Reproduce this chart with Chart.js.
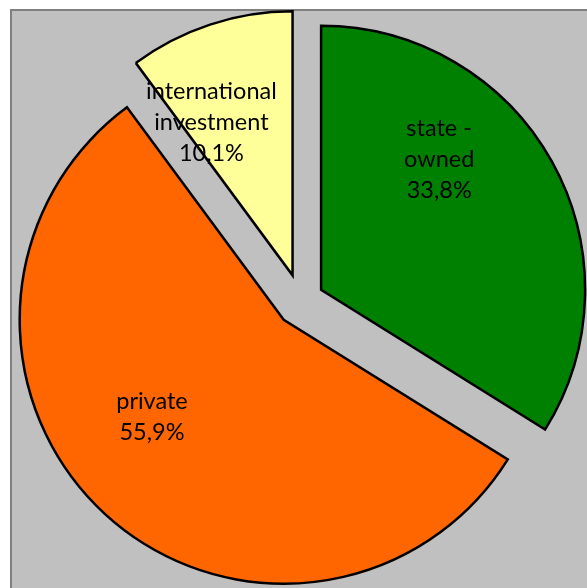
<!doctype html>
<html>

<head>
    <title>Ownership</title>
    <script src="https://cdn.jsdelivr.net/npm/chart.js"></script>
    <style>
        body {
            margin: 0;
            padding: 0;
            background-color: #ffffff;
        }

        #container {
            position: relative;
            width: 587px;
            height: 588px;
        }
    </style>
</head>

<body>
    <div id="container">
        <canvas id="ownership"></canvas>
    </div>

    <script>
        // slice names (split into lines) and their shares in percent
        var categories = [['state -', 'owned'], ['private'], ['international', 'investment']];
        var shares = [33.8, 55.9, 10.1];
        var colors = ['#008000', '#FF6600', '#FFFF99'];

        // grey plot area with a thin frame on the left and top
        var plotArea = {
            id: 'plotArea',
            beforeDraw(chart) {
                var ctx = chart.ctx;
                ctx.save();
                ctx.fillStyle = '#C0C0C0';
                ctx.fillRect(11, 10, chart.width, chart.height);
                ctx.strokeStyle = '#808080';
                ctx.lineWidth = 2;
                ctx.strokeRect(11, 10, chart.width + 10, chart.height + 10);
                ctx.restore();
            }
        };

        // pulls every slice out along its middle angle, keeping the radius
        var explode = {
            id: 'explode',
            beforeDatasetDraw(chart, args, opts) {
                var ctx = chart.ctx;
                chart.getDatasetMeta(args.index).data.forEach(function (arc, i) {
                    var mid = (arc.startAngle + arc.endAngle) / 2;
                    var d = opts.distance[i];
                    ctx.save();
                    ctx.translate(Math.cos(mid) * d, Math.sin(mid) * d);
                    arc.draw(ctx);
                    ctx.restore();
                });
                return false;
            }
        };

        // name + percentage written inside each slice
        var sliceLabels = {
            id: 'sliceLabels',
            afterDatasetsDraw(chart, args, opts) {
                var ctx = chart.ctx;
                ctx.save();
                ctx.font = opts.size + 'px ' + opts.family;
                ctx.fillStyle = '#000000';
                ctx.textAlign = 'center';
                ctx.textBaseline = 'middle';
                chart.getDatasetMeta(0).data.forEach(function (arc, i) {
                    var p = opts.place[i];
                    var a = arc.startAngle + (arc.endAngle - arc.startAngle) * p.t;
                    var r = arc.outerRadius * p.r;
                    var x = arc.x + Math.cos(a) * r;
                    var y = arc.y + Math.sin(a) * r;
                    var lines = categories[i].concat([shares[i].toFixed(1).replace('.', ',') + '%']);
                    var top = y - (lines.length - 1) * opts.lineHeight / 2;
                    lines.forEach(function (line, k) {
                        ctx.fillText(line, x, top + k * opts.lineHeight);
                    });
                });
                ctx.restore();
            }
        };

        var ownership = new Chart(document.getElementById('ownership').getContext('2d'), {
            type: 'pie',
            data: {
                labels: categories,
                datasets: [{
                    data: shares,
                    backgroundColor: colors,
                    borderColor: '#000000',
                    borderWidth: 2.5,
                    borderJoinStyle: 'miter',
                    radius: 264
                }]
            },
            options: {
                responsive: true,
                maintainAspectRatio: false,
                animation: false,
                events: [],
                layout: {
                    padding: { left: 15, top: 14, right: 0, bottom: 0 }
                },
                plugins: {
                    legend: { display: false },
                    tooltip: { enabled: false },
                    explode: { distance: [23, 25.5, 27] },
                    sliceLabels: {
                        family: 'Lato, sans-serif',
                        size: 23.5,
                        lineHeight: 31,
                        place: [
                            { t: 0.363, r: 0.75 },
                            { t: 0.546, r: 0.716 },
                            { t: 0.27, r: 0.758 }
                        ]
                    }
                }
            },
            plugins: [plotArea, explode, sliceLabels]
        });
    </script>
</body>

</html>
